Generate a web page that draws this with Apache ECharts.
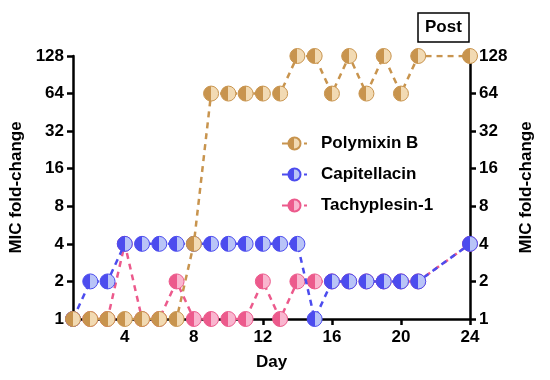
<!DOCTYPE html>
<html><head><meta charset="utf-8">
<script src="https://cdn.jsdelivr.net/npm/echarts@6/dist/echarts.min.js"></script>
<style>html,body{margin:0;padding:0;background:#fff}#c{width:550px;height:380px}</style>
</head><body><div id="c"></div>
<script>
const days = [1,2,3,4,5,6,7,8,9,10,11,12,13,14,15,16,17,18,19,20,21,24];
const polymixinB   = [1,1,1,1,1,1,1,4,64,64,64,64,64,128,128,64,128,64,128,64,128,128];
const capitellacin = [1,2,2,4,4,4,4,4,4,4,4,4,4,4,1,2,2,2,2,2,2,4];
const tachyplesin  = [1,1,1,4,1,1,2,1,1,1,1,2,1,2,2,2,2,2,2,2,2,4];
const xTicks = [4,8,12,16,20,24];
const yTicks = [1,2,4,8,16,32,64,128];
const seriesNames = ['Polymixin B','Capitellacin','Tachyplesin-1'];

const chart = echarts.init(document.getElementById('c'));
function half(dark, light){
  return new echarts.graphic.LinearGradient(0,0,1,0,[
    {offset:0,color:dark},{offset:0.5,color:dark},{offset:0.5,color:light},{offset:1,color:light}]);
}
function mk(name, vals, dark, light, z){
  return {
    name, type:'line', z,
    data: days.map((d,i)=>[d, vals[i]]),
    symbol:'circle', symbolSize:15,
    lineStyle:{color:dark, width:2.5, type:[6,5]},
    itemStyle:{color:half(dark, light), borderColor:dark, borderWidth:1},
    emphasis:{disabled:true}, animation:false
  };
}
const fontF = 'Arial, "Liberation Sans", sans-serif';
const yAxisBase = {
  type:'log', logBase:2, min:1, max:128,
  axisLine:{show:true, lineStyle:{color:'#000', width:2.5}},
  axisTick:{show:true, length:6, lineStyle:{color:'#000', width:2.5}},
  axisLabel:{color:'#000', fontSize:17, fontWeight:'bold', fontFamily:fontF, margin:9},
  splitLine:{show:false},
  name:'MIC fold-change', nameLocation:'middle', nameRotate:90,
  nameTextStyle:{color:'#000', fontSize:17, fontWeight:'bold', fontFamily:fontF}
};
chart.setOption({
  animation:false,
  title:{text:'Post', left:418, top:13, padding:[6,7,6,7], borderColor:'#000', borderWidth:1.5,
    textStyle:{color:'#000', fontSize:17, fontWeight:'bold', fontFamily:fontF}},
  grid:{left:73, right:80, top:56, bottom:61, containLabel:false, outerBoundsMode:'none'},
  legend:{
    data:seriesNames, orient:'vertical', left:276, top:130, itemGap:14,
    itemWidth:25, itemHeight:15,
    textStyle:{color:'#000', fontSize:17, fontWeight:'bold', fontFamily:fontF, padding:[0,0,0,9]}
  },
  xAxis:{
    type:'value', min:1, max:24,
    axisLine:{lineStyle:{color:'#000', width:2.5}},
    axisTick:{show:true, length:6, customValues:xTicks, lineStyle:{color:'#000', width:2.5}},
    axisLabel:{customValues:xTicks, color:'#000', fontSize:17, fontWeight:'bold', fontFamily:fontF, margin:10},
    splitLine:{show:false},
    name:'Day', nameLocation:'middle', nameGap:35,
    nameTextStyle:{color:'#000', fontSize:17, fontWeight:'bold', fontFamily:fontF}
  },
  yAxis:[
    Object.assign({}, yAxisBase, {position:'left', nameGap:47}),
    Object.assign({}, yAxisBase, {position:'right', nameGap:45})
  ],
  series:[
    mk(seriesNames[2], tachyplesin, '#ec5a8c', '#f9b6cf', 2),
    mk(seriesNames[1], capitellacin, '#4c4cee', '#b9c4f7', 3),
    mk(seriesNames[0], polymixinB, '#c8944e', '#f2dab3', 4)
  ]
});
</script></body></html>
